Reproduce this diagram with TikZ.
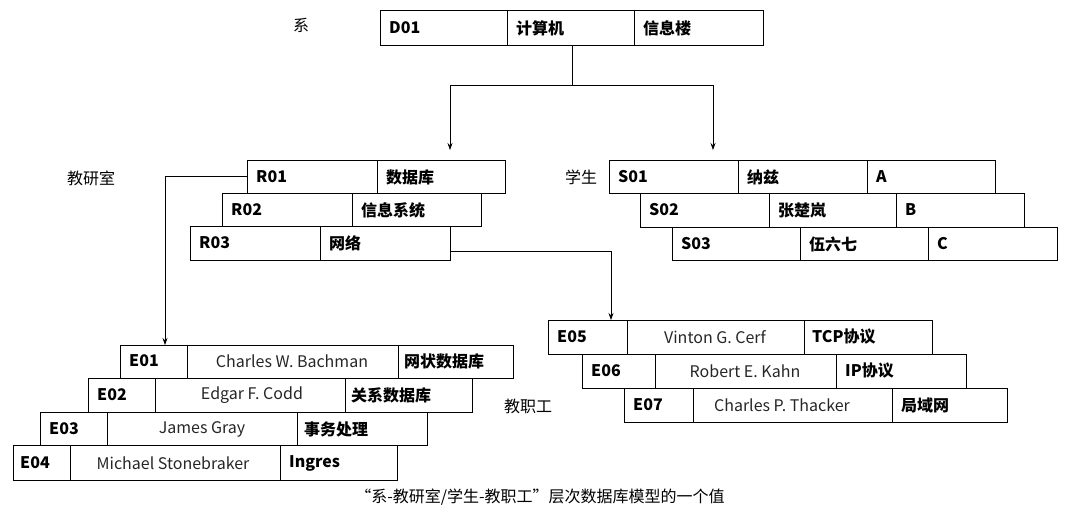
\documentclass[tikz,border=0pt]{standalone}
\usepackage{fontspec}
\setmainfont{Noto Sans CJK SC}
\usetikzlibrary{arrows.meta}
\tikzset{
  rec/.style={draw, line width=0.9pt},
  key/.style={anchor=west, font=\fontsize{16}{18}\selectfont\bfseries, inner sep=0pt},
  val/.style={font=\fontsize{16}{18}\selectfont, text=black!85, inner sep=0pt},
  lbl/.style={font=\fontsize{16}{18}\selectfont, inner sep=0pt},
  link/.style={draw, line width=0.7pt, -{Stealth[length=7pt,width=5pt]}}
}
\begin{document}
\begin{tikzpicture}[x=1pt,y=-1pt]
    \useasboundingbox (0,0) rectangle (1080,516);

    % === department ===
    \draw[rec] (380,10) rectangle (763,45);
    \draw[rec] (507,10) -- (507,45) (634,10) -- (634,45);
    \node[key] (d01) at (389,28) {D01};
    \node[key] (d01n) at (516,28) {计算机};
    \node[key] (d01b) at (643,28) {信息楼};
    \node[lbl] (lsys) at (301,25) {系};
    \coordinate (dtop) at (572,45);

    % === research rooms ===
    \draw[rec] (247,160) rectangle (505,193);
    \draw[rec] (377,160) -- (377,193);
    \node[key] (r01) at (256,177) {R01};
    \node[key] at (386,177) {数据库};
    \draw[rec] (222,193) rectangle (481,226);
    \draw[rec] (352,193) -- (352,226);
    \node[key] (r02) at (231,210) {R02};
    \node[key] at (361,210) {信息系统};
    \draw[rec] (190,226) rectangle (450,260);
    \draw[rec] (320,226) -- (320,260);
    \node[key] (r03) at (199,243) {R03};
    \node[key] at (329,243) {网络};
    \node[lbl] (lroom) at (91,178) {教研室};
    \coordinate (r01l) at (247,176);
    \coordinate (r03r) at (450,251);

    % === students ===
    \draw[rec] (609,160) rectangle (995,193);
    \draw[rec] (738,160) -- (738,193) (867,160) -- (867,193);
    \node[key] (s01) at (618,177) {S01};
    \node[key] at (747,177) {纳兹};
    \node[key] at (876,177) {A};
    \draw[rec] (640,193) rectangle (1024,227);
    \draw[rec] (769,193) -- (769,227) (896,193) -- (896,227);
    \node[key] (s02) at (649,210) {S02};
    \node[key] at (778,210) {张楚岚};
    \node[key] at (905,210) {B};
    \draw[rec] (672,227) rectangle (1057,260);
    \draw[rec] (800,227) -- (800,260) (928,227) -- (928,260);
    \node[key] (s03) at (681,244) {S03};
    \node[key] at (809,244) {伍六七};
    \node[key] at (937,244) {C};
    \node[lbl] (lstu) at (581,177) {学生};

    % === staff of R01 ===
    \draw[rec] (120,345) rectangle (513,378);
    \draw[rec] (187,345) -- (187,378) (398,345) -- (398,378);
    \node[key] (e01) at (129,361) {E01};
    \node[val] at (292,361) {Charles W. Bachman};
    \node[key] at (404,361) {网状数据库};
    \draw[rec] (88,378) rectangle (472,412);
    \draw[rec] (155,378) -- (155,412) (345,378) -- (345,412);
    \node[key] (e02) at (97,395) {E02};
    \node[val] at (252,395) {Edgar F. Codd};
    \node[key] at (351,395) {关系数据库};
    \draw[rec] (40,412) rectangle (427,445);
    \draw[rec] (107,412) -- (107,445) (297,412) -- (297,445);
    \node[key] (e03) at (49,429) {E03};
    \node[val] at (202,429) {James Gray};
    \node[key] at (304,429) {事务处理};
    \draw[rec] (13,445) rectangle (397,480);
    \draw[rec] (70,445) -- (70,480) (280,445) -- (280,480);
    \node[key] (e04) at (20,463) {E04};
    \node[val] at (173,463) {Michael Stonebraker};
    \node[key] at (289,463) {Ingres};
    \coordinate (e01t) at (165,345);

    % === staff of R03 ===
    \draw[rec] (548,320) rectangle (932,354);
    \draw[rec] (627,320) -- (627,354) (804,320) -- (804,354);
    \node[key] (e05) at (557,337) {E05};
    \node[val] at (715,337) {Vinton G. Cerf};
    \node[key] at (812,337) {TCP协议};
    \draw[rec] (582,354) rectangle (966,388);
    \draw[rec] (655,354) -- (655,388) (836,354) -- (836,388);
    \node[key] (e06) at (591,371) {E06};
    \node[val] at (745,371) {Robert E. Kahn};
    \node[key] at (845,371) {IP协议};
    \draw[rec] (624,388) rectangle (1007,422);
    \draw[rec] (693,388) -- (693,422) (892,388) -- (892,422);
    \node[key] (e07) at (633,405) {E07};
    \node[val] at (782,405) {Charles P. Thacker};
    \node[key] at (901,405) {局域网};
    \node[lbl] (lstaff) at (528,406) {教职工};
    \coordinate (e05t) at (611,320);

    % === links ===
    \draw[line width=0.7pt] (dtop) -- (572,85) coordinate (split);
    \draw[link] (split) -| (450,150);
    \draw[link] (split) -| (713,150);
    \draw[link] (r01l) -| (e01t);
    \draw[link] (r03r) -| (e05t);

    % === caption ===
    \node[lbl] (cap) at (540,497) {“系-教研室/学生-教职工”层次数据库模型的一个值};
\end{tikzpicture}
\end{document}
